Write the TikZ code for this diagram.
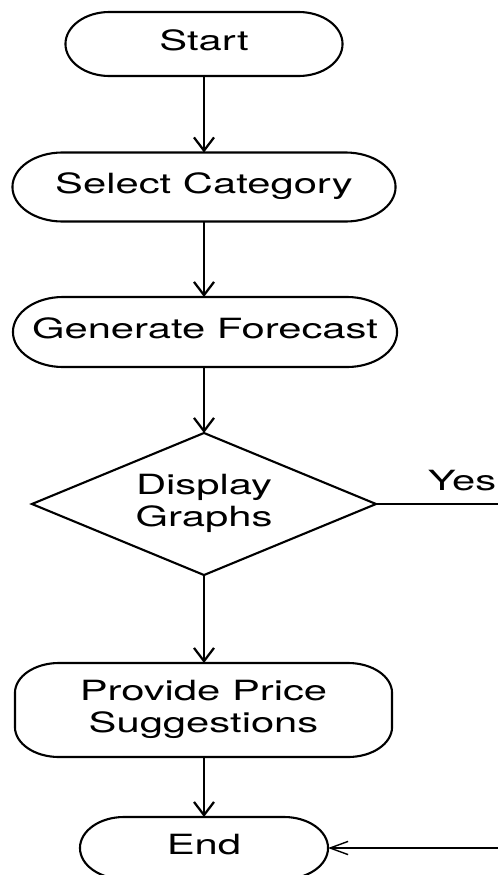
\documentclass[tikz,border=0pt]{standalone}
\usepackage{graphicx}
\usepackage{fontspec}
\setmainfont{TeX Gyre Heros}
\usetikzlibrary{arrows.meta,calc}

% wide lettering: one or more centred lines, stretched horizontally
\newcommand\widetext[1]{\scalebox{1.5}[1]{\begin{tabular}{@{}c@{}}#1\end{tabular}}}

% outline of a terminal / process box with elliptical corners
% #1 node name, #2 horizontal radius, #3 vertical radius
\newcommand\capsule[3]{%
  \draw[shape line]
    ($(#1.north west)+(#2,0)$) -- ($(#1.north east)+(-#2,0)$)
    arc[start angle=90,end angle=0,x radius=#2,y radius=#3]
    -- ($(#1.south east)+(0,#3)$)
    arc[start angle=0,end angle=-90,x radius=#2,y radius=#3]
    -- ($(#1.south west)+(#2,0)$)
    arc[start angle=270,end angle=180,x radius=#2,y radius=#3]
    -- ($(#1.north west)+(0,-#3)$)
    arc[start angle=180,end angle=90,x radius=#2,y radius=#3] -- cycle;}

\begin{document}
\begin{tikzpicture}[x=0.025cm,y=-0.025cm,
  box/.style={inner sep=0pt,outer sep=0pt,font=\fontsize{19.8}{22.5}\selectfont},
  shape line/.style={line width=1.5pt},
  flow/.style={line width=1.6pt,-{Straight Barb[length=0.33cm,width=0.5cm]}},
  side flow/.style={line width=1pt,-{Straight Barb[length=0.45cm,width=0.33cm]}}]
\useasboundingbox (0,0) rectangle (498,875);
\clip (0,0) rectangle (498,875);

% nodes
\node[box,minimum width=6.925cm,minimum height=1.6cm] (start) at (204,44) {\widetext{Start}};
\node[box,minimum width=9.575cm,minimum height=1.725cm] (select) at (204,187) {\widetext{Select Category}};
\node[box,minimum width=9.6cm,minimum height=1.75cm] (forecast) at (205,332) {\widetext{Generate Forecast}};
\node[box,minimum width=8.6cm,minimum height=3.55cm] (graphs) at (204,504) {\raisebox{-2pt}{\widetext{Display\\Graphs}}};
\node[box,minimum width=9.425cm,minimum height=2.35cm] (price) at (203.5,710) {\raisebox{-2pt}{\widetext{Provide Price\\Suggestions}}};
\node[box,minimum width=6.2cm,minimum height=1.55cm] (end) at (204,848) {\widetext{End}};
\node[box] (yes) at (462,484) {\widetext{Yes}};

% outlines
\capsule{start}{1.1cm}{0.8cm}
\capsule{select}{1.25cm}{0.8625cm}
\capsule{forecast}{1.25cm}{0.875cm}
\capsule{price}{1.1cm}{0.75cm}
\capsule{end}{1.1cm}{0.775cm}
\draw[shape line,line join=miter] (graphs.north) -- (graphs.east) -- (graphs.south) -- (graphs.west) -- cycle;

% connectors
\coordinate (loop) at (506,700);
\draw[flow] (start.south) -- (start.south |- select.north);
\draw[flow] (select.south) -- (select.south |- forecast.north);
\draw[flow] (forecast.south -| graphs.north) -- (graphs.north);
\draw[flow] (graphs.south) -- (graphs.south |- price.north);
\draw[flow] (price.south -| end.north) -- (end.north);
\draw[side flow] (graphs.east) -| (loop) |- (end.east);
\end{tikzpicture}
\end{document}
